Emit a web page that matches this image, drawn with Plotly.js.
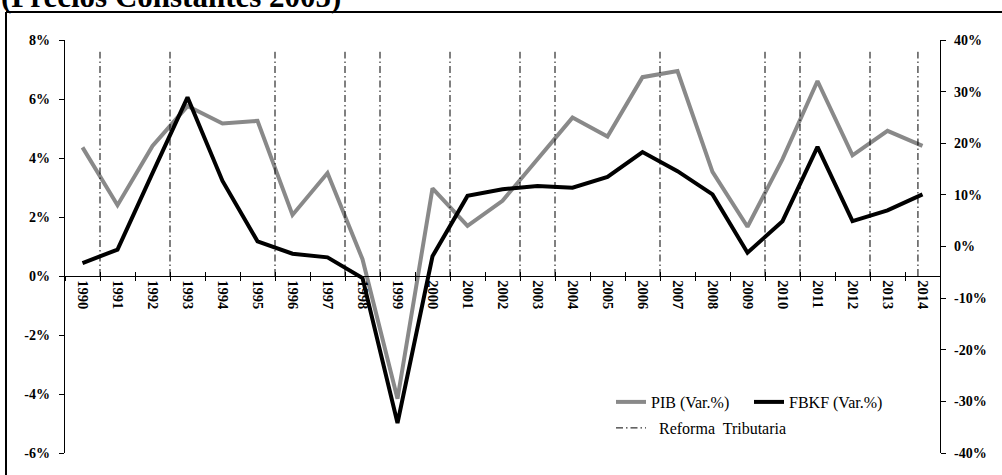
<!DOCTYPE html>
<html>
<head>
<meta charset="utf-8">
<script src="https://cdn.plot.ly/plotly-3.0.1.min.js"></script>
<style>
html,body{margin:0;padding:0;background:#ffffff;}
#chart{width:1002px;height:475px;}
</style>
</head>
<body>
<div id="chart"></div>
<script>
// ---- Data ----
const years = ['1990','1991','1992','1993','1994','1995','1996','1997','1998','1999',
               '2000','2001','2002','2003','2004','2005','2006','2007','2008','2009',
               '2010','2011','2012','2013','2014'];
// PIB annual variation (%), left axis
const pib = [4.36, 2.40, 4.41, 5.76, 5.17, 5.26, 2.07, 3.49, 0.57, -4.16,
             2.97, 1.70, 2.55, 3.97, 5.37, 4.73, 6.74, 6.95, 3.53, 1.67,
             3.96, 6.61, 4.09, 4.92, 4.41];
// FBKF annual variation (%), right axis
const fbkf = [-3.2, -0.6, 14.2, 28.9, 12.7, 1.0, -1.4, -2.1, -6.1, -34.2,
              -1.9, 9.8, 11.1, 11.7, 11.4, 13.5, 18.3, 14.6, 10.1, -1.2,
              4.9, 19.3, 4.9, 7.0, 10.1];
// Tax reforms: positions on the year index scale (between years)
const reformPositions = [0.5, 2.5, 5.5, 7.5, 8.5, 10.5, 12.5, 13.5, 16.5, 19.5, 20.5, 22.5, 23.87];
const reformTop = 7.6; // reform marker height, left-axis %
// Tick labels
const leftTickVals = [-6, -4, -2, 0, 2, 4, 6, 8];
const leftTickText = ['-6%', '-4%', '-2%', '0%', '2%', '4%', '6%', '8%'];
const rightTickVals = [-40, -30, -20, -10, 0, 10, 20, 30, 40];
const rightTickText = ['-40%', '-30%', '-20%', '-10%', '0%', '10%', '20%', '30%', '40%'];
const titleText = '(Precios Constantes 2005)';
const seriesNames = ['PIB (Var.%)', 'FBKF (Var.%)', '\u00a0\u00a0Reforma\u00a0 Tributaria'];

// ---- Build reform line trace ----
const rx = [], ry = [];
reformPositions.forEach(p => { rx.push(p, p, null); ry.push(0, reformTop, null); });

const SERIF = '"Liberation Serif", "Times New Roman", serif';

const traces = [
  {
    x: rx, y: ry, xaxis: 'x2', yaxis: 'y', type: 'scatter', mode: 'lines',
    name: seriesNames[2], legend: 'legend2',
    line: {color: '#000000', width: 1, dash: '7px,3px,1.5px,3px'},
    hoverinfo: 'skip'
  },
  {
    x: years, y: pib, type: 'scatter', mode: 'lines', name: seriesNames[0],
    xaxis: 'x', yaxis: 'y',
    line: {color: '#898989', width: 4}
  },
  {
    x: years, y: fbkf, type: 'scatter', mode: 'lines', name: seriesNames[1],
    xaxis: 'x', yaxis: 'y2',
    line: {color: '#000000', width: 4}
  }
];

const zeroPos = (0 - leftTickVals[0]) / (leftTickVals[leftTickVals.length - 1] - leftTickVals[0]);
const ML = 65, MR = 62, MT = 40, MB = 22, W = 1002, H = 475;
const PW = W - ML - MR, PH = H - MT - MB;
const px = v => (v - ML) / PW;
const py = v => (H - MB - v) / PH;

const tickFont = {family: SERIF, size: 14, color: '#000000', weight: 'bold'};

const layout = {
  width: W, height: H,
  margin: {l: ML, r: MR, t: MT, b: MB, pad: 0},
  paper_bgcolor: '#ffffff', plot_bgcolor: 'rgba(0,0,0,0)',
  font: {family: SERIF, color: '#000000'},
  showlegend: true,
  hovermode: false,
  xaxis: {
    type: 'category', range: [-0.5, years.length - 0.5],
    anchor: 'free', position: zeroPos,
    showline: true, linecolor: '#000000', linewidth: 1.3,
    ticks: 'outside', tickson: 'boundaries', ticklen: 4, tickcolor: '#000000', tickwidth: 1,
    tickangle: 90, tickfont: {family: SERIF, size: 14.5, color: '#000000', weight: 'bold'},
    showgrid: false, zeroline: false, fixedrange: true
  },
  xaxis2: {
    overlaying: 'x', range: [-0.5, years.length - 0.5],
    anchor: 'free', position: zeroPos,
    showline: false, ticks: 'inside', tick0: 0.5, dtick: 1, ticklen: 4,
    tickcolor: '#000000', tickwidth: 1,
    showticklabels: false, showgrid: false, zeroline: false, fixedrange: true
  },
  yaxis: {
    range: [leftTickVals[0], leftTickVals[leftTickVals.length - 1]],
    tickmode: 'array', tickvals: leftTickVals, ticktext: leftTickText,
    showline: true, linecolor: '#000000', linewidth: 1.3,
    ticks: 'outside', ticklen: 5, tickcolor: '#000000', tickwidth: 1,
    ticklabelstandoff: 6,
    tickfont: tickFont, showgrid: false, zeroline: false, fixedrange: true
  },
  yaxis2: {
    overlaying: 'y', side: 'right',
    range: [rightTickVals[0], rightTickVals[rightTickVals.length - 1]],
    tickmode: 'array', tickvals: rightTickVals, ticktext: rightTickText,
    showline: true, linecolor: '#000000', linewidth: 1.3,
    ticks: 'outside', ticklen: 5, tickcolor: '#000000', tickwidth: 1,
    ticklabelstandoff: 5,
    tickfont: tickFont, showgrid: false, zeroline: false, fixedrange: true
  },
  legend: {
    orientation: 'h', x: px(611), xanchor: 'left', y: py(402), yanchor: 'middle',
    bgcolor: 'rgba(0,0,0,0)', borderwidth: 0,
    entrywidth: 93,
    font: {family: SERIF, size: 16, color: '#000000'},
    traceorder: 'normal', itemclick: false, itemdoubleclick: false
  },
  legend2: {
    orientation: 'h', x: px(611), xanchor: 'left', y: py(428), yanchor: 'middle',
    bgcolor: 'rgba(0,0,0,0)', borderwidth: 0,
    font: {family: SERIF, size: 16, color: '#000000'},
    itemclick: false, itemdoubleclick: false
  },
  shapes: [
    {type: 'line', xref: 'paper', yref: 'paper', x0: px(6), x1: px(6), y0: py(12), y1: py(480),
     line: {color: '#000000', width: 2}},
    {type: 'line', xref: 'paper', yref: 'paper', x0: px(6), x1: px(1010), y0: py(12), y1: py(12),
     line: {color: '#000000', width: 2}}
  ],
  annotations: [
    {text: '<b>' + titleText + '</b>', xref: 'paper', yref: 'paper',
     x: px(-1), xanchor: 'left', y: py(16), yanchor: 'bottom', showarrow: false,
     font: {family: SERIF, size: 31, color: '#000000'}}
  ]
};

Plotly.newPlot('chart', traces, layout, {staticPlot: true, displayModeBar: false});
</script>
</body>
</html>
